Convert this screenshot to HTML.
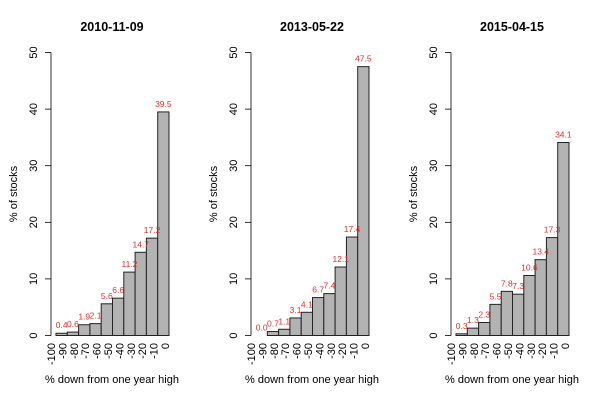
<!DOCTYPE html>
<html><head><style>body{margin:0;background:#fff}svg{display:block}text{font-family:"Liberation Sans",Arial,sans-serif}</style></head>
<body>
<svg id="s" width="600" height="400" xmlns="http://www.w3.org/2000/svg"></svg>
<script>
var data=[["2010-11-09",[0.4,0.6,1.9,2.1,5.6,6.6,11.2,14.7,17.2,39.5]],
["2013-05-22",[0.0,0.7,1.1,3.1,4.1,6.7,7.4,12.1,17.4,47.5]],
["2015-04-15",[0.3,1.3,2.3,5.5,7.8,7.3,10.6,13.4,17.3,34.1]]];
var h='';
data.forEach(function(d,p){
 var ox=p*200, y0=335.5, k=5.66, ax=ox+51, bx=ox+56, bw=11.3;
 h+='<text x="'+(ox+112)+'" y="31" font-size="12.5" font-weight="bold" text-anchor="middle">'+d[0]+'</text>';
 h+='<line x1="'+ax+'" y1="'+(y0-50*k)+'" x2="'+ax+'" y2="'+y0+'" stroke="#000" stroke-width="0.8"/>';
 for(var t=0;t<=50;t+=10){var y=y0-t*k;
  h+='<line x1="'+(ax-6)+'" y1="'+y+'" x2="'+ax+'" y2="'+y+'" stroke="#000" stroke-width="0.8"/>';
  h+='<text transform="translate('+(ox+37)+','+y+') rotate(-90)" font-size="11" text-anchor="middle">'+t+'</text>';}
 h+='<text transform="translate('+(ox+17)+',194) rotate(-90)" font-size="11" text-anchor="middle">% of stocks</text>';
 d[1].forEach(function(v,i){var x=bx+i*bw, y=y0-v*k;
  h+='<rect x="'+x+'" y="'+y+'" width="'+bw+'" height="'+(v*k)+'" fill="#b3b3b3" stroke="#222" stroke-width="1"/>';});
 d[1].forEach(function(v,i){var x=bx+i*bw, y=y0-v*k;
  h+='<text x="'+(x+bw/2)+'" y="'+(y-5)+'" font-size="8.5" fill="#e0302c" text-anchor="middle">'+v.toFixed(1)+'</text>';});
 for(var i=0;i<=10;i++){var lx=ox+55+i*11.4;
  h+='<text transform="translate('+lx+',343) rotate(-90)" font-size="11" text-anchor="end">'+(i==10?'0':(-100+i*10))+'</text>';}
 h+='<text x="'+(ox+112)+'" y="383" font-size="11" text-anchor="middle">% down from one year high</text>';
});
document.getElementById('s').innerHTML=h;
</script>
</body></html>
